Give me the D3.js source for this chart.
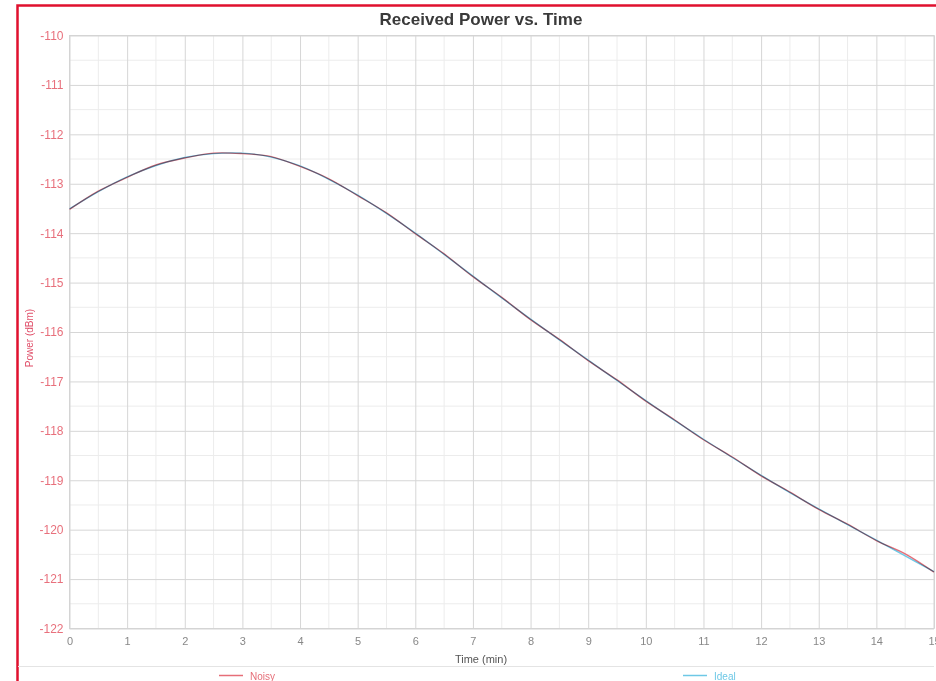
<!DOCTYPE html>
<html>
<head>
<meta charset="utf-8">
<script src="https://cdn.jsdelivr.net/npm/d3@7"></script>
<style>
  html, body { margin: 0; padding: 0; background: #fff; }
  svg { display: block; font-family: "Liberation Sans", Arial, sans-serif; }
</style>
</head>
<body>
<svg id="chart" width="936" height="681"></svg>
<script>
// Sample times (minutes)
const times = [0, 0.5, 1, 1.5, 2, 2.5, 3, 3.5, 4, 4.5, 5, 5.5, 6, 6.5, 7, 7.5,
               8, 8.5, 9, 9.5, 10, 10.5, 11, 11.5, 12, 12.5, 13, 13.5, 14, 14.5, 15];

// Ideal received power (dBm)
const idealPower = [-113.51, -113.16, -112.86, -112.63, -112.47, -112.39, -112.38, -112.46,
                    -112.64, -112.91, -113.23, -113.60, -114.00, -114.43, -114.87, -115.31,
                    -115.74, -116.16, -116.57, -116.98, -117.39, -117.79, -118.17, -118.54,
                    -118.90, -119.25, -119.58, -119.90, -120.21, -120.53, -120.85];

// Noisy received power (dBm)
const noisyPower = [-113.52, -113.15, -112.87, -112.62, -112.48, -112.38, -112.39, -112.45,
                    -112.65, -112.90, -113.24, -113.59, -114.01, -114.42, -114.88, -115.30,
                    -115.75, -116.15, -116.58, -116.97, -117.40, -117.78, -118.18, -118.53,
                    -118.91, -119.24, -119.59, -119.89, -120.22, -120.49, -120.86];

// Axis ticks
const xTicks = d3.range(0, 16, 1);
const yTicks = d3.range(-122, -109, 1);
const xMinor = d3.range(0.5, 15, 1);
const yMinor = d3.range(-121.5, -110, 1);

const seriesNames = ["Noisy", "Ideal"];
const seriesColors = ["#e66e78", "#6ec8e6"];

const svg = d3.select("#chart");
const plotLeft = 69.5, plotRight = 934, plotTop = 35.5, plotBottom = 628.5;

const x = d3.scaleLinear().domain([0, 15]).range([plotLeft, plotRight]);
const y = d3.scaleLinear().domain([-122, -110]).range([plotBottom, plotTop]);

// Outer frame
svg.append("rect")
  .attr("x", 17.5).attr("y", 5.5)
  .attr("width", 940).attr("height", 700)
  .attr("fill", "none").attr("stroke", "#e0102e").attr("stroke-width", 2.5);

// Title
svg.append("text")
  .attr("x", 481).attr("y", 25)
  .attr("text-anchor", "middle")
  .attr("font-size", 17).attr("font-weight", "bold").attr("fill", "#3a3a3a")
  .text("Received Power vs. Time");

const grid = svg.append("g");
// Minor grid
grid.selectAll("line.xm").data(xMinor).join("line")
  .attr("x1", d => x(d)).attr("x2", d => x(d)).attr("y1", plotTop).attr("y2", plotBottom)
  .attr("stroke", "#ececec").attr("stroke-width", 1);
grid.selectAll("line.ym").data(yMinor).join("line")
  .attr("y1", d => y(d)).attr("y2", d => y(d)).attr("x1", plotLeft).attr("x2", plotRight)
  .attr("stroke", "#ececec").attr("stroke-width", 1);

// Major grid via axes
const xGrid = d3.axisBottom(x).tickValues(xTicks).tickSize(-(plotBottom - plotTop)).tickFormat("");
grid.append("g").attr("transform", `translate(0,${plotBottom})`).call(xGrid)
  .call(g => g.select(".domain").remove())
  .call(g => g.selectAll("line").attr("stroke", "#d6d6d6"));
const yGrid = d3.axisLeft(y).tickValues(yTicks).tickSize(-(plotRight - plotLeft)).tickFormat("");
grid.append("g").attr("transform", `translate(${plotLeft},0)`).call(yGrid)
  .call(g => g.select(".domain").remove())
  .call(g => g.selectAll("line").attr("stroke", "#d6d6d6"));

// Plot border
svg.append("rect")
  .attr("x", plotLeft).attr("y", plotTop).attr("width", plotRight - plotLeft).attr("height", plotBottom - plotTop)
  .attr("fill", "none").attr("stroke", "#d4d4d4");

// Tick labels
const xAxis = d3.axisBottom(x).tickValues(xTicks).tickSize(0).tickPadding(9).tickFormat(d => String(d));
svg.append("g").attr("transform", `translate(0,${plotBottom})`).call(xAxis)
  .call(g => g.select(".domain").remove())
  .call(g => g.selectAll("text").attr("fill", "#888").attr("font-size", 11)
    .attr("font-family", "Liberation Sans, Arial, sans-serif"));

const yAxis = d3.axisLeft(y).tickValues(yTicks).tickSize(0).tickPadding(6).tickFormat(d => String(d));
svg.append("g").attr("transform", `translate(${plotLeft},0)`).call(yAxis)
  .call(g => g.select(".domain").remove())
  .call(g => g.selectAll("text").attr("fill", "#e8707c").attr("font-size", 12)
    .attr("font-family", "Liberation Sans, Arial, sans-serif"));

// Axis titles
svg.append("text")
  .attr("x", 481).attr("y", 663).attr("text-anchor", "middle")
  .attr("font-size", 11).attr("fill", "#555").text("Time (min)");
svg.append("text")
  .attr("transform", "translate(33,338) rotate(-90)")
  .attr("text-anchor", "middle").attr("font-size", 10).attr("fill", "#e0506a")
  .text("Power (dBm)");

// Series lines
const series = [noisyPower, idealPower];
const line = d3.line().x((d, i) => x(times[i])).y(d => y(d)).curve(d3.curveCatmullRom.alpha(0.5));
const lines = svg.append("g").style("isolation", "isolate");
series.forEach((vals, k) => {
  lines.append("path")
    .datum(vals)
    .attr("d", line)
    .attr("fill", "none")
    .attr("stroke", seriesColors[k])
    .attr("stroke-width", 1.4)
    .style("mix-blend-mode", "multiply");
});

// Legend separator
svg.append("line")
  .attr("x1", 18).attr("x2", 934).attr("y1", 666.5).attr("y2", 666.5)
  .attr("stroke", "#e4e4e4");

// Legend
const legendX = [219, 683];
seriesNames.forEach((name, k) => {
  const g = svg.append("g").attr("transform", `translate(${legendX[k]},675.5)`);
  g.append("line").attr("x1", 0).attr("x2", 24).attr("y1", 0).attr("y2", 0)
    .attr("stroke", seriesColors[k]).attr("stroke-width", 1.5);
  g.append("text").attr("x", 31).attr("y", 4).attr("font-size", 10)
    .attr("fill", seriesColors[k]).text(name);
});
</script>
</body>
</html>
